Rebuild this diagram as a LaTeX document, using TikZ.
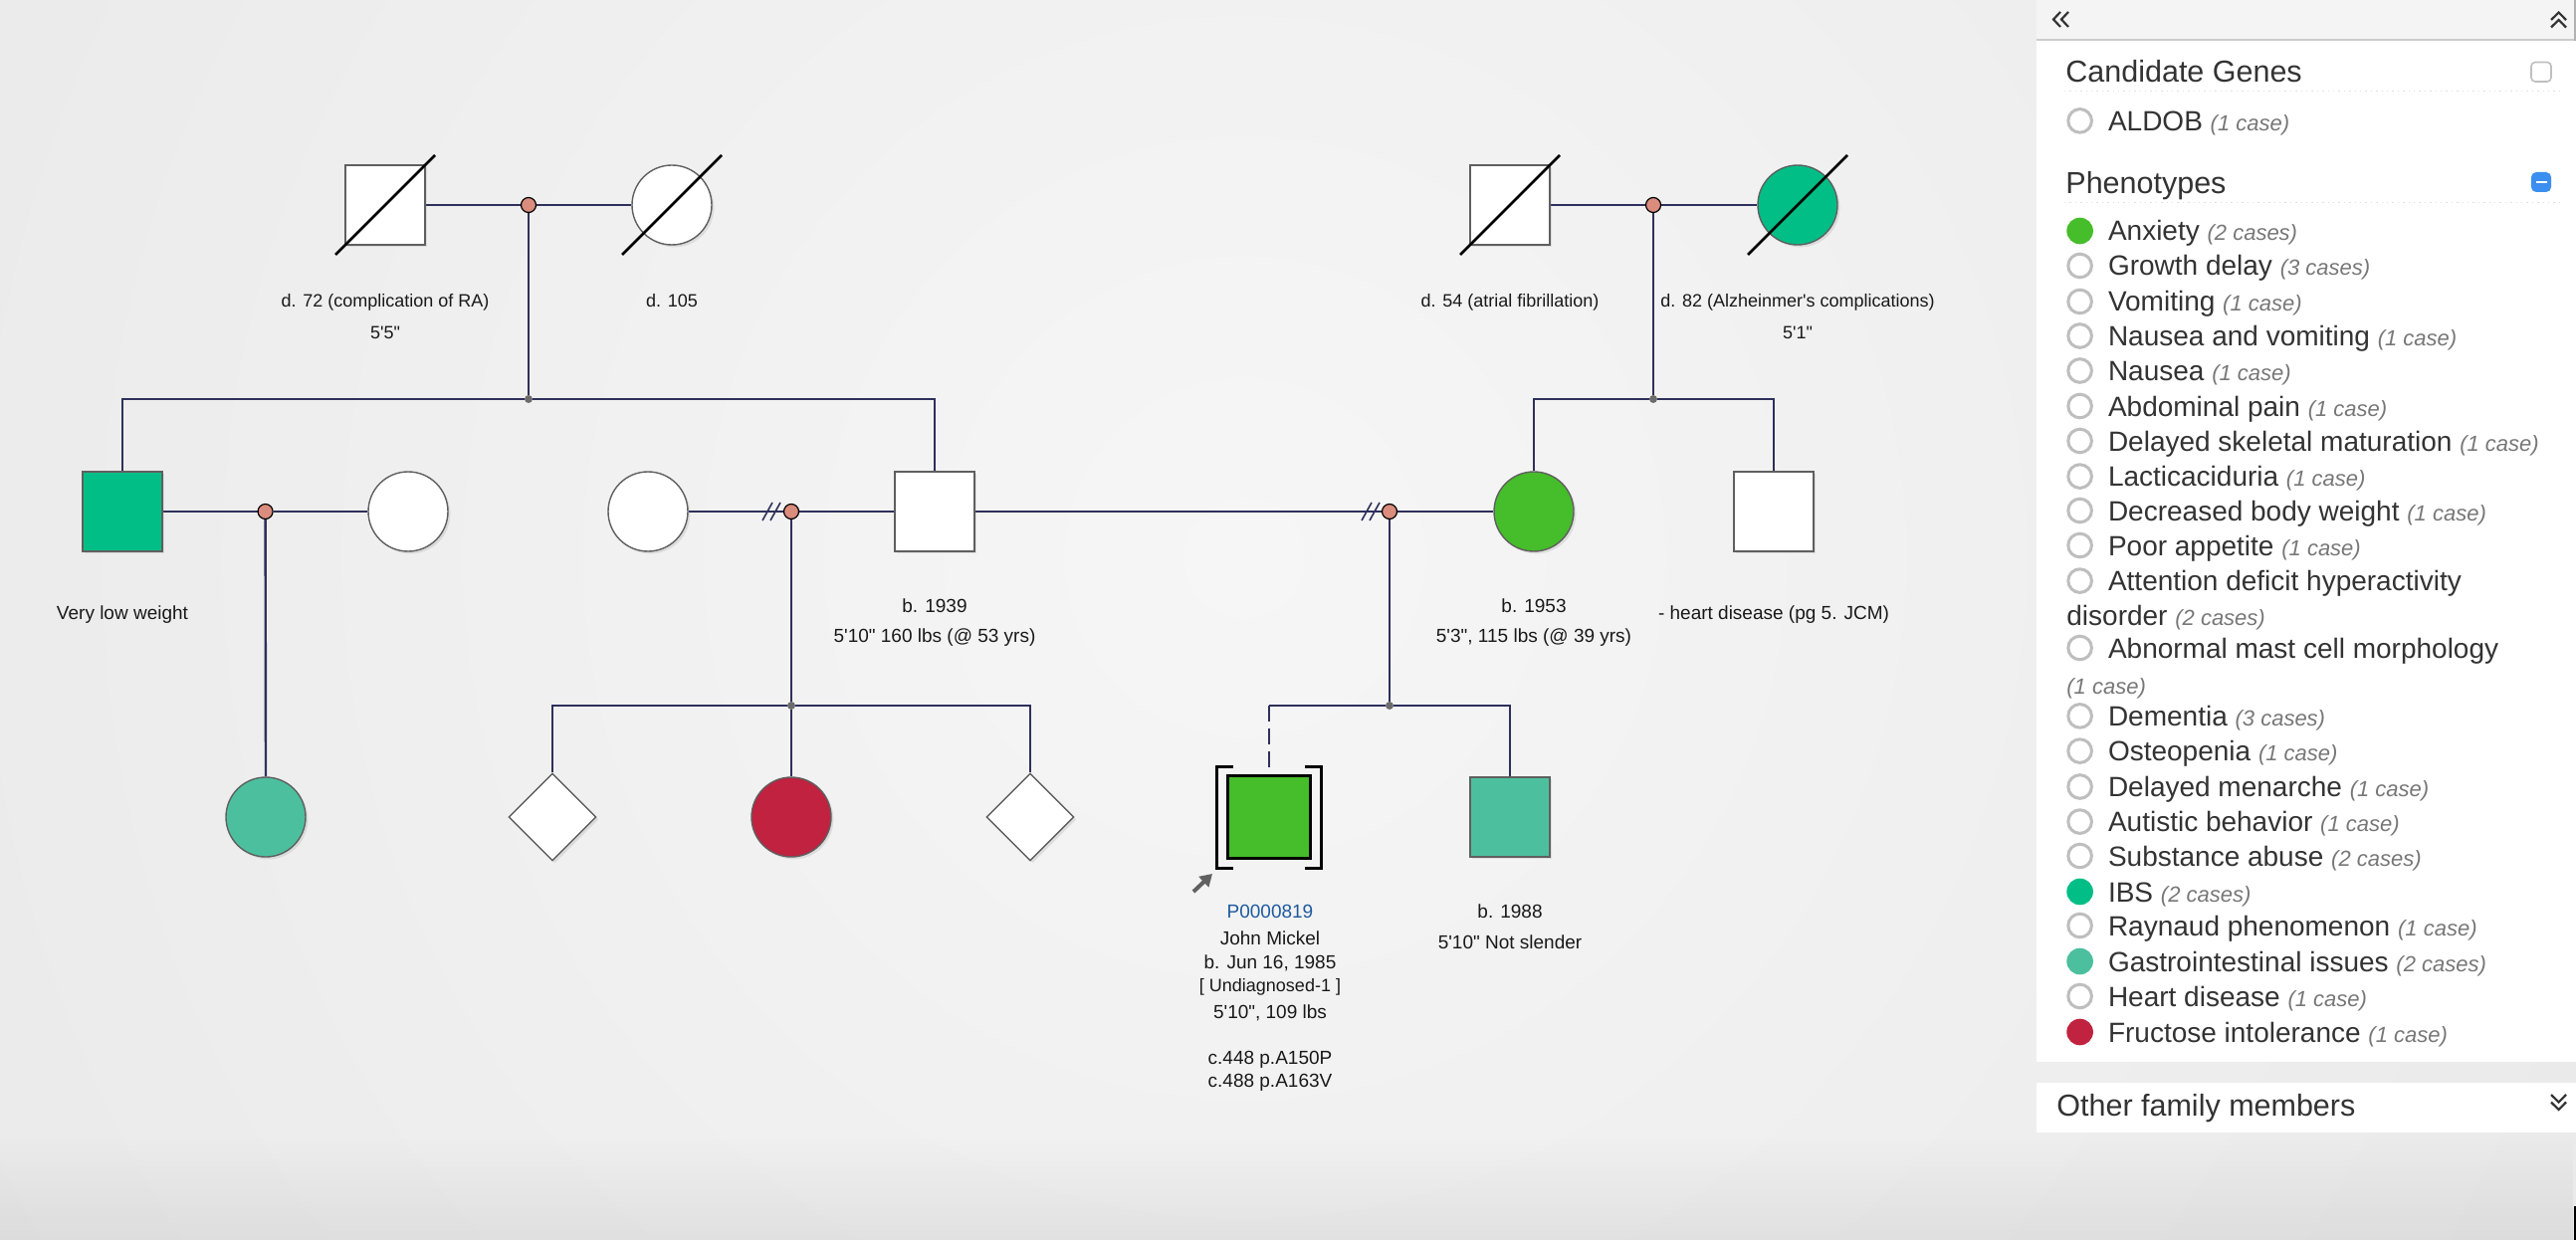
\documentclass[tikz,border=0pt]{standalone}
\usepackage{fontspec}
\setmainfont{Liberation Sans}[Ligatures=TeXOff]
\usetikzlibrary{calc,shapes.geometric,shadows,fadings,arrows.meta}

\definecolor{edgecol}{RGB}{46,48,92}
\definecolor{ibs}{RGB}{0,190,134}
\definecolor{anx}{RGB}{70,189,42}
\definecolor{gi}{RGB}{76,192,158}
\definecolor{fru}{RGB}{192,34,63}
\definecolor{dotfill}{RGB}{218,140,125}
\definecolor{outl}{RGB}{95,95,95}
\definecolor{pid}{RGB}{30,90,160}
\definecolor{ptxt}{RGB}{51,51,51}
\definecolor{pcnt}{RGB}{119,119,119}
\definecolor{ringcol}{RGB}{190,190,190}
\definecolor{bgin}{RGB}{246,246,246}
\definecolor{bgout}{RGB}{222,222,222}
\definecolor{headbg}{RGB}{244,244,244}
\definecolor{minusblue}{RGB}{59,143,240}

\pgfdeclarelayer{bg}
\pgfdeclarelayer{edges}
\pgfsetlayers{bg,edges,main}

\newcommand\casecount[1]{{\fontsize{11}{13}\selectfont\itshape\color{pcnt}#1}}

\tikzset{
  person/.style={draw=outl, fill=white, line width=0.7pt, inner sep=0pt,
    drop shadow={shadow xshift=1.2pt, shadow yshift=-1.2pt, opacity=0.18}},
  male/.style={person, rectangle, minimum size=40pt},
  female/.style={person, circle, minimum size=40pt},
  unknownsex/.style={person, diamond, minimum size=44pt},
  proband/.style={rectangle, draw=black, line width=1.6pt, inner sep=0pt, minimum size=41.5pt},
  mdot/.style={circle, draw=black, line width=0.6pt, fill=dotfill, minimum size=7.5pt, inner sep=0pt},
  sdot/.style={circle, fill=gray!85!black, minimum size=4pt, inner sep=0pt},
  rel/.style={draw=edgecol, line width=1.2pt},
  twin/.style={draw=edgecol, line width=0.8pt},
  slash/.style={draw=black, line width=1.4pt},
  bracket/.style={draw=black, line width=1.5pt},
  lbl/.style={inner sep=0pt, text=black!90, font=\fontsize{9.5}{11}\selectfont, text height=6.8pt, text depth=0pt},
  lbls/.style={lbl, font=\fontsize{9}{11}\selectfont, text height=6.45pt},
  item/.style={anchor=west, inner sep=0pt, text=ptxt, font=\fontsize{14}{16}\selectfont, text height=10pt, text depth=0pt},
  heading/.style={anchor=west, inner sep=0pt, text=ptxt, font=\fontsize{15.25}{18}\selectfont, text height=10.9pt, text depth=0pt},
  ring/.style={circle, draw=ringcol, line width=1.5pt, minimum size=11.8pt, inner sep=0pt},
  bullet/.style={circle, fill=#1, minimum size=13.3pt, inner sep=0pt},
  icon/.style={draw=ptxt, line width=1.1pt},
}

\newcommand\phrow[5]{%
  \node[#3] (#1r) at (2089.6,#2) {};
  \node[item] (#1t) at (2117.6,#2) {#4 \casecount{#5}};}

\begin{document}
\begin{tikzpicture}[x=0.5pt, y=-0.5pt]
\useasboundingbox (0,0) rectangle (2588,1246);

% canvas background
\begin{pgfonlayer}{bg}
  \begin{scope}
    \clip (0,0) rectangle (2588,1246);
    \shade[inner color=bgin, outer color=bgout] (1250,560) circle (2900);
    \fill[black, opacity=0.06, path fading=north] (0,1140) rectangle (2588,1246);
  \end{scope}
\end{pgfonlayer}

% ---------- generation I ----------
\node[male]   (g1a) at (387,206) {};
\node[mdot]   (m1)  at (531,206) {};
\node[female] (g1b) at (675,206) {};
\node[male]   (g1c) at (1517,206) {};
\node[mdot]   (m2)  at (1661,206) {};
\node[female, fill=ibs] (g1d) at (1806,206) {};
\node[sdot] (s1) at (531,401) {};
\node[sdot] (s2) at (1661,401) {};

% ---------- generation II ----------
\node[male, fill=ibs] (g2a) at (123,514) {};
\node[mdot]   (m3)  at (266.6,514) {};
\node[female] (g2b) at (410,514) {};
\node[female] (g2c) at (651,514) {};
\node[mdot]   (m4)  at (795,514) {};
\node[male]   (g2d) at (939,514) {};
\node[mdot]   (m5)  at (1396,514) {};
\node[female, fill=anx] (g2e) at (1541,514) {};
\node[male]   (g2f) at (1782,514) {};

% ---------- generation III ----------
\node[female, fill=gi] (g3a) at (267,821) {};
\node[sdot] (s3) at (795,709) {};
\node[unknownsex] (g3b) at (555,821) {};
\node[female, fill=fru] (g3c) at (795,821) {};
\node[unknownsex] (g3d) at (1035,821) {};
\node[sdot] (s4) at (1396,709) {};
\node[proband, fill=anx] (p) at (1275,821) {};
\node[male, fill=gi] (g3f) at (1517,821) {};

% deceased marks
\foreach \n in {g1a,g1b,g1c,g1d}
  \draw[slash] ($(\n.center)+(-50,50)$) -- ($(\n.center)+(50,-50)$);

% proband brackets and pointer
\draw[bracket] ($(p.center)+(-36,-51)$) -- ($(p.center)+(-53,-51)$) -- ($(p.center)+(-53,51)$) -- ($(p.center)+(-36,51)$);
\draw[bracket] ($(p.center)+(36,-51)$) -- ($(p.center)+(52,-51)$) -- ($(p.center)+(52,51)$) -- ($(p.center)+(36,51)$);
\coordinate (arrT) at (1199,896);
\coordinate (arrH) at (1218,878);
\draw[-{Triangle[length=6pt,width=7pt]}, line width=2pt, draw=gray!75!black, fill=gray!75!black] (arrT) -- (arrH);

% ---------- connectors ----------
\begin{pgfonlayer}{edges}
  \draw[rel] (g1a.east) -- (m1) -- (g1b.west);
  \draw[rel] (g1c.east) -- (m2) -- (g1d.west);
  \draw[rel] (m1) -- (s1);
  \draw[rel] (m2) -- (s2);
  \draw[rel] (g2a.north) |- (s1) -| (g2d.north);
  \draw[rel] (g2e.north) |- (s2) -| (g2f.north);

  \draw[rel] (g2a.east) -- (m3) -- (g2b.west);
  \draw[rel] (g2c.east) -- (m4) -- (g2d.west);
  \draw[rel] (g2d.east) -- (m5) -- (g2e.west);
  \draw[twin] ($(m4)+(-29,9)$) -- ($(m4)+(-19,-9)$);
  \draw[twin] ($(m4)+(-21,9)$) -- ($(m4)+(-11,-9)$);
  \draw[twin] ($(m5)+(-28,9)$) -- ($(m5)+(-18,-9)$);
  \draw[twin] ($(m5)+(-20,9)$) -- ($(m5)+(-10,-9)$);

  \draw[rel] (m3) -- (g3a.north);
  \draw[rel] (m4) -- (s3);
  \draw[rel] (g3b.north) |- (s3) -| (g3d.north);
  \draw[rel] (s3) -- (g3c.north);
  \draw[rel] (m5) -- (s4);
  \draw[rel] (s4) -| (g3f.north);
  \draw[rel] (s4) -- (s4 -| p.north);
  \draw[rel, dash pattern=on 8pt off 3.5pt] (s4 -| p.north) -- (p.north);
\end{pgfonlayer}

% ---------- labels ----------
\node[lbls] (t1a)  at (387,302) {d. 72 (complication of RA)};
\node[lbls] (t1a2) at (387,334) {5'5"};
\node[lbls] (t1b)  at (675,302) {d. 105};
\node[lbls] (t1c)  at (1517,302) {d. 54 (atrial fibrillation)};
\node[lbls] (t1d)  at (1806,302) {d. 82 (Alzheinmer's complications)};
\node[lbls] (t1d2) at (1806,334) {5'1"};

\node[lbl] (t2a)  at (123,616) {Very low weight};
\node[lbl] (t2d)  at (939,609) {b. 1939};
\node[lbl] (t2d2) at (939,639) {5'10" 160 lbs (@ 53 yrs)};
\node[lbl] (t2e)  at (1541,609) {b. 1953};
\node[lbl] (t2e2) at (1541,639) {5'3", 115 lbs (@ 39 yrs)};
\node[lbl] (t2f)  at (1782,616) {- heart disease (pg 5. JCM)};

\node[lbl, text=pid] (tp1) at (1276,916) {P0000819};
\node[lbl] (tp2) at (1276,943) {John Mickel};
\node[lbl] (tp3) at (1276,967) {b. Jun 16, 1985};
\node[lbls] (tp4) at (1276,990) {[ Undiagnosed-1 ]};
\node[lbl] (tp5) at (1276,1017) {5'10", 109 lbs};
\node[lbl] (tp6) at (1276,1063) {c.448 p.A150P};
\node[lbl] (tp7) at (1276,1086) {c.488 p.A163V};
\node[lbl] (t3f)  at (1517,916) {b. 1988};
\node[lbl] (t3f2) at (1517,947) {5'10" Not slender};

% ---------- legend panel ----------
\fill[headbg] (2046,0) rectangle (2588,39);
\draw[gray!40, line width=1.2pt] (2046,40) -- (2588,40);
\fill[white] (2046,41) rectangle (2588,1067);
\fill[white] (2046,1088) rectangle (2588,1138);
\draw[gray!60, line width=0.8pt] (2587,0) -- (2587,41);
\fill[black] (2586,1212) rectangle (2588,1246);

% header icons
\draw[icon] (2070,12) -- (2063,19.5) -- (2070,27);
\draw[icon] (2078,12) -- (2071,19.5) -- (2078,27);
\draw[icon] (2563,20) -- (2570.6,12.5) -- (2578,20);
\draw[icon] (2563,27.5) -- (2570.6,20) -- (2578,27.5);
\draw[icon] (2563,1100) -- (2570.6,1107.5) -- (2578,1100);
\draw[icon] (2563,1107.5) -- (2570.6,1115) -- (2578,1107.5);

% candidate genes
\node[heading] (hcg) at (2075,72) {Candidate Genes};
\draw[gray!50, line width=0.8pt, rounded corners=2pt] (2543,62.5) rectangle (2563,82);
\draw[gray!25, line width=0.7pt, dotted] (2074,91.8) -- (2572,91.8);
\phrow{aldob}{121.4}{ring}{ALDOB}{(1 case)}

% phenotypes
\node[heading] (hph) at (2075,184) {Phenotypes};
\fill[minusblue, rounded corners=2.5pt] (2543,173) rectangle (2563,193);
\draw[white, line width=1.3pt] (2547.5,183) -- (2558.5,183);
\draw[gray!25, line width=0.7pt, dotted] (2074,203.6) -- (2572,203.6);

\phrow{anx}{232}{bullet=anx}{Anxiety}{(2 cases)}
\phrow{grd}{267}{ring}{Growth delay}{(3 cases)}
\phrow{vom}{303}{ring}{Vomiting}{(1 case)}
\phrow{nav}{337.5}{ring}{Nausea and vomiting}{(1 case)}
\phrow{nau}{372.5}{ring}{Nausea}{(1 case)}
\phrow{abd}{408}{ring}{Abdominal pain}{(1 case)}
\phrow{dsm}{443}{ring}{Delayed skeletal maturation}{(1 case)}
\phrow{lac}{478.6}{ring}{Lacticaciduria}{(1 case)}
\phrow{dbw}{513}{ring}{Decreased body weight}{(1 case)}
\phrow{poa}{548}{ring}{Poor appetite}{(1 case)}
\node[ring] (adhr) at (2089.6,583.6) {};
\node[item] (adht) at (2117.6,583.6) {Attention deficit hyperactivity};
\node[item] (adht2) at (2076,618.4) {disorder \casecount{(2 cases)}};
\node[ring] (amcr) at (2089.6,651) {};
\node[item] (amct) at (2117.6,651) {Abnormal mast cell morphology};
\node[item] (amct2) at (2076,687) {\casecount{(1 case)}};
\phrow{dem}{719.4}{ring}{Dementia}{(3 cases)}
\phrow{ost}{754.6}{ring}{Osteopenia}{(1 case)}
\phrow{dme}{790.5}{ring}{Delayed menarche}{(1 case)}
\phrow{aut}{825.6}{ring}{Autistic behavior}{(1 case)}
\phrow{sub}{860}{ring}{Substance abuse}{(2 cases)}
\phrow{ibs}{896}{bullet=ibs}{IBS}{(2 cases)}
\phrow{ray}{930}{ring}{Raynaud phenomenon}{(1 case)}
\phrow{gis}{966}{bullet=gi}{Gastrointestinal issues}{(2 cases)}
\phrow{hrt}{1001}{ring}{Heart disease}{(1 case)}
\phrow{fru}{1037}{bullet=fru}{Fructose intolerance}{(1 case)}

\node[heading] (hof) at (2066,1111) {Other family members};
\end{tikzpicture}
\end{document}
